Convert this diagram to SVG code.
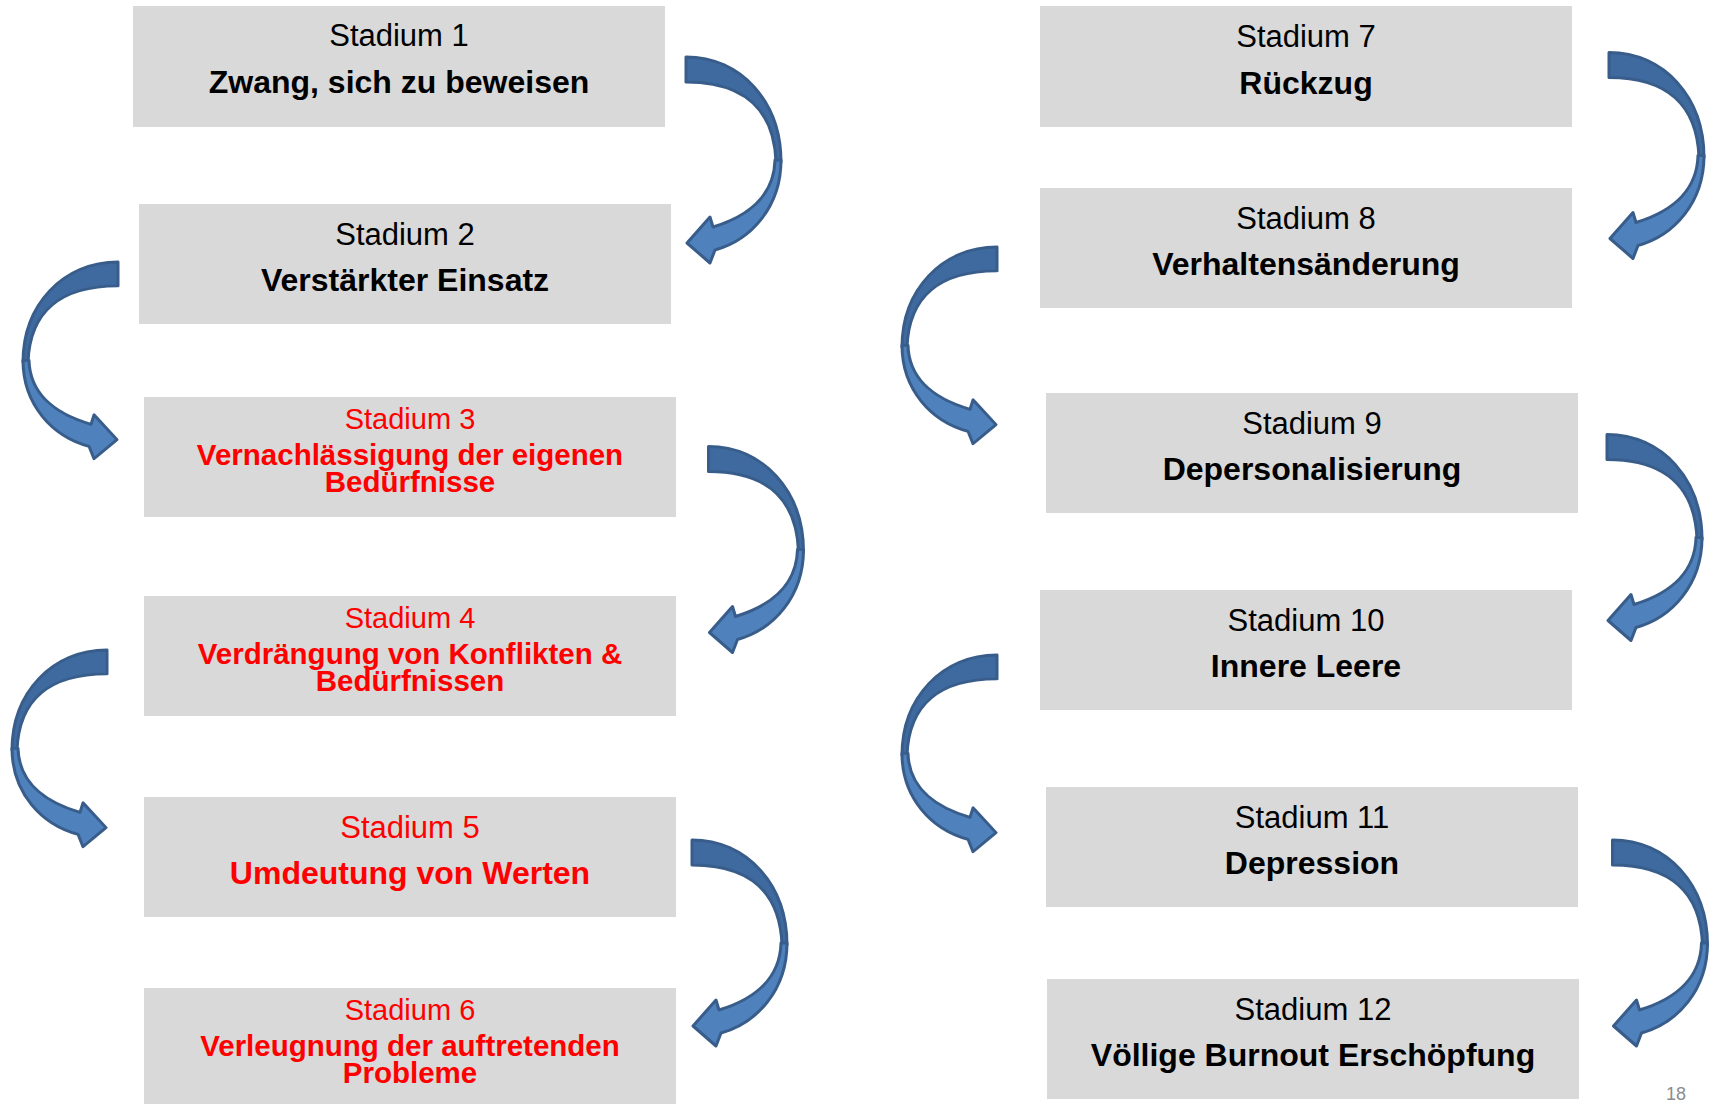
<svg xmlns="http://www.w3.org/2000/svg" width="1712" height="1104" viewBox="0 0 1712 1104">
<defs>
<style>
.box{fill:#D9D9D9}
.st{font-family:"Liberation Sans",Arial,sans-serif;font-size:31px;fill:#000;text-anchor:middle}
.bd{font-family:"Liberation Sans",Arial,sans-serif;font-size:32px;font-weight:bold;fill:#000;text-anchor:middle}
.red{fill:#FF0000}
.st2{font-family:"Liberation Sans",Arial,sans-serif;font-size:29px;fill:#FF0000;text-anchor:middle}
.bd2{font-family:"Liberation Sans",Arial,sans-serif;font-size:29.5px;font-weight:bold;fill:#FF0000;text-anchor:middle}
.dk{fill:#3F6A9F;stroke:#385D8A;stroke-width:3;stroke-linejoin:round}
.lt{fill:#4F81BD;stroke:#385D8A;stroke-width:3;stroke-linejoin:round}
.pg{font-family:"Liberation Sans",Arial,sans-serif;font-size:18px;fill:#8C8C8C}
</style>
<g id="curv">
<path class="dk" d="M0,0 C55,0 95,45 95,105 L90,105 C88,50 55,25 0,25 Z"/>
<path class="lt" d="M95,103 C95,150 65,183 29,193 L24,206 L1,186 L24,160 L27,170 C60,160 88,140 89,103 Z"/>
</g>
</defs>

<g id="node1"><rect class="box" x="133" y="6" width="532" height="121"/>
<text class="st" x="399" y="46">Stadium 1</text><text class="bd" x="399" y="93">Zwang, sich zu beweisen</text></g>
<g id="node2"><rect class="box" x="139" y="204" width="532" height="120"/>
<text class="st" x="405" y="245">Stadium 2</text><text class="bd" x="405" y="291">Verstärkter Einsatz</text></g>
<g id="node3"><rect class="box" x="144" y="397" width="532" height="120"/>
<text class="st2" x="410" y="429">Stadium 3</text><text class="bd2" x="410" y="465">Vernachlässigung der eigenen</text><text class="bd2" x="410" y="492">Bedürfnisse</text></g>
<g id="node4"><rect class="box" x="144" y="596" width="532" height="120"/>
<text class="st2" x="410" y="628">Stadium 4</text><text class="bd2" x="410" y="664">Verdrängung von Konflikten &amp;</text><text class="bd2" x="410" y="691">Bedürfnissen</text></g>
<g id="node5"><rect class="box" x="144" y="797" width="532" height="120"/>
<text class="st red" x="410" y="838">Stadium 5</text><text class="bd red" x="410" y="884">Umdeutung von Werten</text></g>
<g id="node6"><rect class="box" x="144" y="988" width="532" height="116"/>
<text class="st2" x="410" y="1020">Stadium 6</text><text class="bd2" x="410" y="1056">Verleugnung der auftretenden</text><text class="bd2" x="410" y="1083">Probleme</text></g>

<g id="node7"><rect class="box" x="1040" y="6" width="532" height="121"/>
<text class="st" x="1306" y="47">Stadium 7</text><text class="bd" x="1306" y="94">Rückzug</text></g>
<g id="node8"><rect class="box" x="1040" y="188" width="532" height="120"/>
<text class="st" x="1306" y="229">Stadium 8</text><text class="bd" x="1306" y="275">Verhaltensänderung</text></g>
<g id="node9"><rect class="box" x="1046" y="393" width="532" height="120"/>
<text class="st" x="1312" y="434">Stadium 9</text><text class="bd" x="1312" y="480">Depersonalisierung</text></g>
<g id="node10"><rect class="box" x="1040" y="590" width="532" height="120"/>
<text class="st" x="1306" y="631">Stadium 10</text><text class="bd" x="1306" y="677">Innere Leere</text></g>
<g id="node11"><rect class="box" x="1046" y="787" width="532" height="120"/>
<text class="st" x="1312" y="828">Stadium 11</text><text class="bd" x="1312" y="874">Depression</text></g>
<g id="node12"><rect class="box" x="1047" y="979" width="532" height="120"/>
<text class="st" x="1313" y="1020">Stadium 12</text><text class="bd" x="1313" y="1066">Völlige Burnout Erschöpfung</text></g>

<g id="connectors">
<use href="#curv" transform="translate(686,57)"/>
<use href="#curv" transform="translate(118,262) scale(-1,0.955)"/>
<use href="#curv" transform="translate(708.5,446.5)"/>
<use href="#curv" transform="translate(107,650) scale(-1,0.955)"/>
<use href="#curv" transform="translate(692,840)"/>
<use href="#curv" transform="translate(1609,52.5)"/>
<use href="#curv" transform="translate(997,247) scale(-1,0.955)"/>
<use href="#curv" transform="translate(1607,434.5)"/>
<use href="#curv" transform="translate(997,655) scale(-1,0.955)"/>
<use href="#curv" transform="translate(1612.5,840)"/>
</g>

<text class="pg" x="1666" y="1100">18</text>
</svg>
